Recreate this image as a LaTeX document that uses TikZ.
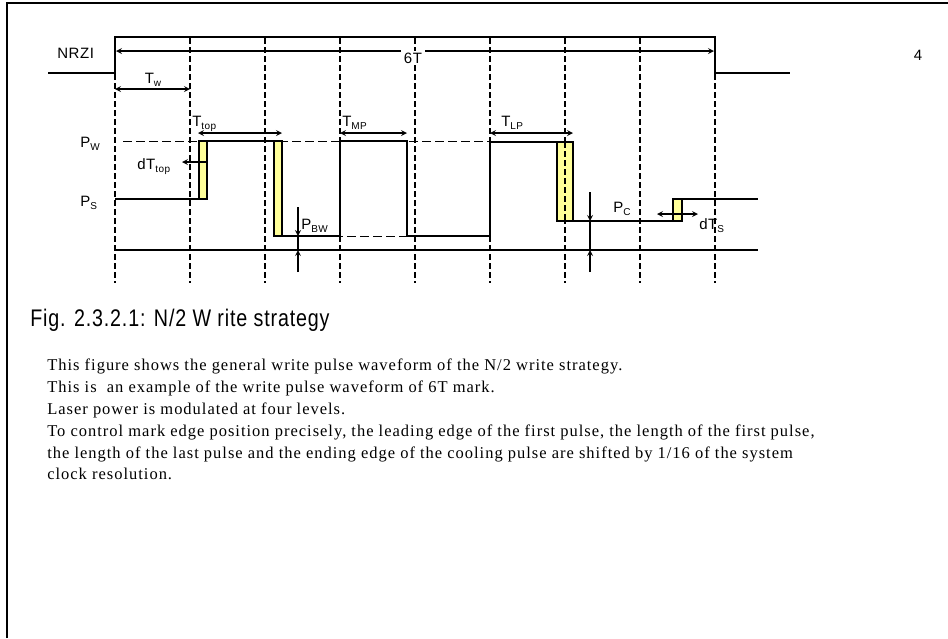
\documentclass[tikz,border=0pt]{standalone}
\usepackage{fontspec}
\setmainfont{Liberation Serif}[LetterSpace=6]
\newfontfamily\lblfont{Liberation Sans}[LetterSpace=4]
\newfontfamily\capfont{Liberation Sans}[FakeStretch=0.82,LetterSpace=3.5]
\usetikzlibrary{arrows}
\definecolor{pulseyellow}{RGB}{255,255,153}
\newcommand{\lowidx}[2]{#1\raisebox{-3pt}{\fontsize{10}{10}\selectfont #2}}

\begin{document}
\begin{tikzpicture}[
            > = stealth, % arrow head style
            x = 1pt, y = -1pt, % one unit per pixel, y runs down
            semithick, % line style
            every node/.style = {font=\lblfont\fontsize{15}{15}\selectfont, inner sep=0pt}
        ]

        \tikzstyle{grid line}=[dash pattern=on 6pt off 3pt, line width=1.2pt]
        \tikzstyle{level line}=[dash pattern=on 9pt off 4pt, line width=1pt]
        \tikzstyle{wave}=[line width=1.6pt]
        \tikzstyle{pulse}=[draw=black, line width=1.3pt, fill=pulseyellow]
        \tikzstyle{measure}=[line width=1.6pt]

        \useasboundingbox (0,0) rectangle (948,638);
        \draw[line width=1.8pt] (7,638) -- (7,3) -- (948,3);

        % clock grid
        \foreach \i in {0,...,8} {
            \coordinate (g\i) at ({115+75*\i},283);
        }
        \foreach \i in {1,...,7} \draw[grid line] ({115+75*\i},38) -- (g\i);
        \draw[grid line] (115,74) -- (g0);
        \draw[grid line] (715,74) -- (g8);

        % NRZI signal
        \draw[line width=2pt] (48,73) -- (115,73) -- (115,37) -- (715,37) -- (715,73) -- (790,73);
        \node[anchor=base west] (nrzi) at (57,58) {NRZI};
        \node[fill=white, inner xsep=3pt, inner ysep=2pt] (sixT) at (413,58) {6T};
        \coordinate (mark0) at (116,51);
        \coordinate (mark1) at (714,51);
        \draw[measure, ->] (sixT.west |- mark0) -- (mark0);
        \draw[measure, ->] (sixT.east |- mark1) -- (mark1);
        \node (page) at (918,55) {4};

        % power levels
        \draw[level line] (123,141) -- (490,141);
        \draw[level line] (282,236) -- (490,236);
        \draw[line width=1.3pt] (115,250) -- (758,250);

        % write pulse waveform
        \draw[wave] (115,199) -- (199,199) -- (199,141) -- (282,141) -- (282,236) -- (340,236)
            -- (340,141) -- (407,141) -- (407,236);
        \draw[wave] (407,236) -- (490,236) -- (490,142) -- (573,142)
            -- (573,221) -- (673,221) -- (673,199) -- (758,199);
        \draw[pulse] (199,141) rectangle (207,199);
        \draw[pulse] (274,141) rectangle (282,236);
        \draw[pulse] (557,142) rectangle (573,221);
        \draw[pulse] (673,199) rectangle (682,221);
        \draw[grid line] (565,142) -- (565,221);

        % timing labels
        \coordinate (tw0) at (115,89);
        \coordinate (tw1) at (190,89);
        \draw[measure, <->] (tw0) -- (tw1);
        \node[anchor=base] (tw) at (153,83) {\lowidx{T}{w}};

        \draw[measure, <->] (198,133) -- (282,133);
        \node[anchor=base west] (ttop) at (192,126) {\lowidx{T}{top}};
        \draw[measure, <->] (340,133) -- (407,133);
        \node[anchor=base west] (tmp) at (342,126) {\lowidx{T}{MP}};
        \draw[measure, <->] (490,133) -- (573,133);
        \node[anchor=base west] (tlp) at (501,126) {\lowidx{T}{LP}};

        \node[anchor=base west] (pw) at (80,147) {\lowidx{P}{W}};
        \node[anchor=base west] (ps) at (80,206) {\lowidx{P}{S}};

        \draw[measure, ->] (207,162) -- (182,162);
        \node[anchor=base west] (dttop) at (137,169) {d\lowidx{T}{top}};

        \draw[measure, ->] (298,207) -- (298,236);
        \draw[measure, ->] (298,272) -- (298,250);
        \draw[measure] (298,236) -- (298,250);
        \node[anchor=base west] (pbw) at (301,229) {\lowidx{P}{BW}};

        \draw[measure, ->] (590,192) -- (590,221);
        \draw[measure, ->] (590,272) -- (590,250);
        \draw[measure] (590,221) -- (590,250);
        \node[anchor=base west] (pc) at (613,212) {\lowidx{P}{C}};

        \draw[measure, <->] (657,214) -- (698,214);
        \node[anchor=base west] (dts) at (699,229) {d\lowidx{T}{S}};

        % caption and notes
        \node[anchor=base west, font=\capfont\fontsize{24}{24}\selectfont] (caption) at (30,326)
            {Fig. 2.3.2.1: N/2 W rite strategy};
        \node[anchor=north west, align=left, font=\rmfamily\fontsize{16.5}{21.8}\selectfont] (notes) at (47,359)
            {This figure shows the general write pulse waveform of the N/2 write strategy.\\
             This is\ \ an example of the write pulse waveform of 6T mark.\\
             Laser power is modulated at four levels.\\
             To control mark edge position precisely, the leading edge of the first pulse, the length of the first pulse,\\
             the length of the last pulse and the ending edge of the cooling pulse are shifted by 1/16 of the system\\
             clock resolution.};

\end{tikzpicture}
\end{document}
